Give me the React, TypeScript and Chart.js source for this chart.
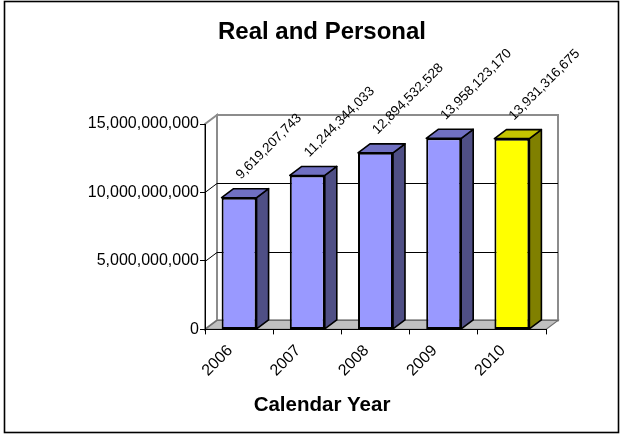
import React, { useEffect, useRef } from 'react';
import { Chart, registerables } from 'chart.js';

Chart.register(...registerables);

const years = ['2006', '2007', '2008', '2009', '2010'];
const values = [9619207743, 11244344033, 12894532528, 13958123170, 13931316675];
const yTickValues = [0, 5000000000, 10000000000, 15000000000];
const frontColors = ['#9999FF', '#9999FF', '#9999FF', '#9999FF', '#FFFF00'];
const sideColors = ['#4F4F85', '#4F4F85', '#4F4F85', '#4F4F85', '#808000'];
const topColors = ['#7070C2', '#7070C2', '#7070C2', '#7070C2', '#C4C400'];
const titleText = 'Real and Personal';
const xTitleText = 'Calendar Year';

const DX = 12;
const DY = -9;
const FONT = "'Liberation Sans', Arial, sans-serif";

const fmt = (v: number) => Number(v).toLocaleString('en-US');

function poly(ctx: CanvasRenderingContext2D, pts: number[][], fill: string) {
  ctx.beginPath();
  ctx.moveTo(pts[0][0], pts[0][1]);
  for (let i = 1; i < pts.length; i++) ctx.lineTo(pts[i][0], pts[i][1]);
  ctx.closePath();
  ctx.fillStyle = fill;
  ctx.fill();
  ctx.strokeStyle = '#000';
  ctx.lineWidth = 1.6;
  ctx.lineJoin = 'round';
  ctx.stroke();
}

const threeD = {
  id: 'threeD',
  beforeDraw(chart: any) {
    const { ctx, chartArea: a, scales } = chart;
    const y = scales.y;
    ctx.save();
    ctx.fillStyle = '#fff';
    ctx.fillRect(0, 0, chart.width, chart.height);
    // outer frame
    ctx.strokeStyle = '#000';
    ctx.lineWidth = 1.6;
    ctx.strokeRect(4.5, 1.5, 614, 431);
    // side wall
    ctx.beginPath();
    ctx.moveTo(a.left, a.bottom);
    ctx.lineTo(a.left + DX, a.bottom + DY);
    ctx.lineTo(a.left + DX, a.top + DY);
    ctx.lineTo(a.left, a.top);
    ctx.closePath();
    ctx.fillStyle = '#fff';
    ctx.fill();
    ctx.strokeStyle = '#8C8C8C';
    ctx.lineWidth = 2;
    ctx.stroke();
    // back wall
    ctx.strokeRect(a.left + DX, a.top + DY, a.right - a.left, a.bottom - a.top);
    // gridlines on walls
    ctx.strokeStyle = '#000';
    ctx.lineWidth = 1;
    yTickValues.forEach((v) => {
      if (v <= y.min || v >= y.max) return;
      const py = Math.round(y.getPixelForValue(v)) + 0.5;
      ctx.beginPath();
      ctx.moveTo(a.left, py);
      ctx.lineTo(a.left + DX, py + DY);
      ctx.lineTo(a.right + DX, py + DY);
      ctx.stroke();
    });
    // floor
    ctx.beginPath();
    ctx.moveTo(a.left, a.bottom);
    ctx.lineTo(a.right, a.bottom);
    ctx.lineTo(a.right + DX, a.bottom + DY);
    ctx.lineTo(a.left + DX, a.bottom + DY);
    ctx.closePath();
    ctx.fillStyle = '#C0C0C0';
    ctx.fill();
    ctx.strokeStyle = '#6E6E6E';
    ctx.lineWidth = 1.2;
    ctx.stroke();
    ctx.restore();
  },
  afterDatasetsDraw(chart: any) {
    const { ctx } = chart;
    const meta = chart.getDatasetMeta(0);
    ctx.save();
    meta.data.forEach((bar: any, i: number) => {
      const { x, y, base, width } = bar.getProps(['x', 'y', 'base', 'width'], true);
      const l = x - width / 2;
      const r = x + width / 2;
      poly(ctx, [[r, y], [r + DX, y + DY], [r + DX, base + DY], [r, base]], sideColors[i]);
      poly(ctx, [[l, y], [l + DX, y + DY], [r + DX, y + DY], [r, y]], topColors[i]);
    });
    meta.data.forEach((bar: any, i: number) => {
      const { x, y } = bar.getProps(['x', 'y'], true);
      ctx.save();
      ctx.translate(x + 2, y - 18);
      ctx.rotate(-Math.PI / 4);
      ctx.font = `13.5px ${FONT}`;
      ctx.fillStyle = '#000';
      ctx.textAlign = 'left';
      ctx.textBaseline = 'alphabetic';
      ctx.fillText(fmt(values[i]), 0, 0);
      ctx.restore();
    });
    ctx.restore();
  },
};

export default function App() {
  const ref = useRef<HTMLCanvasElement>(null);
  useEffect(() => {
    if (!ref.current) return;
    const chart = new Chart(ref.current, {
      type: 'bar',
      data: {
        labels: years,
        datasets: [
          {
            data: values,
            backgroundColor: frontColors,
            borderColor: '#000',
            borderWidth: 2,
            borderSkipped: false,
            categoryPercentage: 1,
            barPercentage: 0.513,
          },
        ],
      },
      options: {
        responsive: false,
        animation: false,
        devicePixelRatio: 1,
        layout: { padding: { left: 84, right: 64, top: 0, bottom: 0 } },
        plugins: {
          legend: { display: false },
          tooltip: { enabled: false },
          title: {
            display: true,
            text: titleText,
            color: '#000',
            font: { family: FONT, size: 24, weight: 'bold' },
            padding: { top: 18, bottom: 77.2 },
          },
          subtitle: {
            display: true,
            position: 'bottom',
            text: xTitleText,
            color: '#000',
            font: { family: FONT, size: 20.5, weight: 'bold' },
            padding: { top: 0, bottom: 17 },
          },
        },
        scales: {
          x: {
            afterFit: (s: any) => {
              s.height = 64;
            },
            grid: {
              offset: true,
              drawOnChartArea: false,
              drawTicks: true,
              tickLength: 5,
              color: '#000',
            },
            border: { display: true, color: '#000', width: 1 },
            ticks: {
              color: '#000',
              font: { family: FONT, size: 16 },
              minRotation: 45,
              maxRotation: 45,
              padding: 7,
              labelOffset: -9,
            },
          },
          y: {
            min: 0,
            max: 15000000000,
            afterFit: (s: any) => {
              s.width = 121;
            },
            afterBuildTicks: (s: any) => {
              s.ticks = yTickValues.map((v) => ({ value: v }));
            },
            grid: {
              drawOnChartArea: false,
              drawTicks: true,
              tickLength: 5,
              color: '#000',
            },
            border: { display: true, color: '#000', width: 1 },
            ticks: {
              color: '#000',
              font: { family: FONT, size: 16 },
              padding: 1,
              callback: (v: any) => fmt(Number(v)),
            },
          },
          yRightSpace: {
            type: 'linear',
            position: 'right',
            display: true,
            afterFit: (s: any) => {
              s.width = 14;
            },
            grid: { display: false, drawTicks: false },
            border: { display: false },
            ticks: { display: false },
          },
        },
      },
      plugins: [threeD],
    } as any);
    return () => chart.destroy();
  }, []);
  return (
    <div style={{ position: 'fixed', left: 0, top: 0, width: 624, height: 435, background: '#fff' }}>
      <canvas ref={ref} width={624} height={435} style={{ display: 'block' }} />
    </div>
  );
}
